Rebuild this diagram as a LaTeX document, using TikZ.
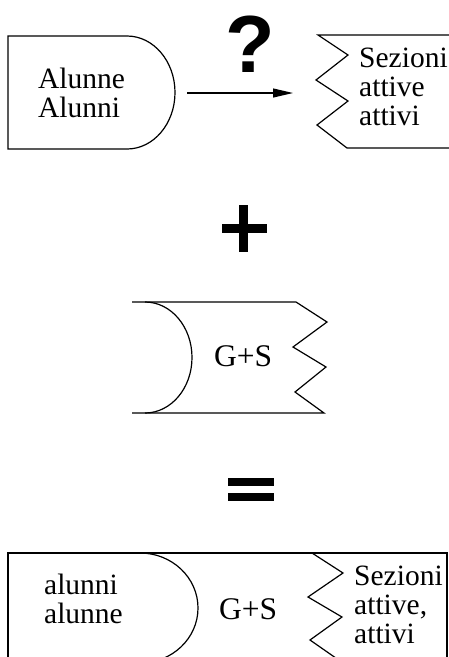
\documentclass[tikz,border=0pt]{standalone}
\usepackage{fontspec}
\setmainfont{Liberation Serif}
\newfontfamily\qfont{Liberation Sans}
\usetikzlibrary{arrows.meta}
\begin{document}
\begin{tikzpicture}[x=1pt,y=-1pt,
  outline/.style={line width=1.2pt, line join=miter},
  lbl/.style={inner sep=0pt, anchor=base west, align=left, font=\fontsize{29.5}{29}\selectfont},
  gs/.style={inner sep=0pt, anchor=base west, font=\fontsize{31.5}{31}\selectfont},
  conn/.style={line width=1.1pt, -{Triangle[length=20pt,width=9pt]}},
  sym/.style={fill=black}]
\useasboundingbox (0,0) rectangle (449,657);
\clip (0,0) rectangle (449,657);

% ---- top row ----
\draw[outline] (8,36) -- (127,36) .. controls (153.5,36) and (175,61.3) .. (175,92.5)
  .. controls (175,123.7) and (153.5,149) .. (127,149) -- (8,149) -- cycle;
% base anchor of a multi-line node = baseline of its last line
\node[lbl] (alunne) at (38,117) {Alunne\\Alunni};

\draw[outline] (452,35) -- (318,35) -- (348,55) -- (316,80) -- (348,101) -- (317,125) -- (347,148) -- (452,148);
\node[lbl] (sez1) at (359,125) {Sezioni\\attive\\attivi};

\coordinate (arrS) at (187,93);
\coordinate (arrE) at (293,93);
\draw[conn] (arrS) -- (arrE);
\node[font=\qfont\bfseries\fontsize{81}{81}\selectfont, inner sep=0pt, anchor=base] (q) at (250,72) {?};

% ---- plus ----
\fill[sym] (222,224) rectangle (267,233);
\fill[sym] (239,205) rectangle (248,252);

% ---- middle shape ----
\draw[outline] (132,302) -- (296,302) -- (327,322) -- (293,347) -- (326,367) -- (295,392) -- (324,413) -- (132,413);
\draw[outline] (145,302) .. controls (171,302) and (192,326.8) .. (192,357.5)
  .. controls (192,388.2) and (171,413) .. (145,413);
\node[gs] (gs1) at (214,366) {G+S};

% ---- equals ----
\fill[sym] (228,478) rectangle (274,486);
\fill[sym] (228,493) rectangle (274,501);

% ---- bottom combined ----
\draw[outline] (8,670) -- (8,553) -- (447,553) -- (447,670);
\draw[outline] (140,553) .. controls (172,553) and (198,577.6) .. (198,608)
  .. controls (198,638.4) and (172,663) .. (140,663);
\draw[outline] (312,553) -- (343,573) -- (308,597) -- (342,617) -- (310,640) -- (343,663);
\node[lbl] (alunni) at (44,623) {alunni\\alunne};
\node[gs] (gs2) at (219,619) {G+S};
\node[lbl] (sez2) at (354,643) {Sezioni\\attive,\\attivi};
\end{tikzpicture}
\end{document}
